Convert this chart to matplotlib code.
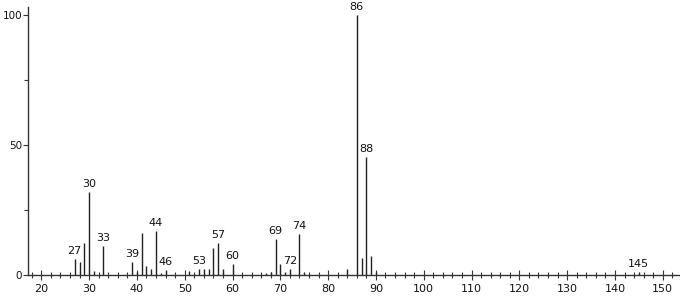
import matplotlib.pyplot as plt

# m/z and relative intensity (%)
mz = [27, 28, 29, 30, 31, 33, 39, 40, 41, 42, 43, 44, 45, 46,
      51, 52, 53, 54, 55, 56, 57, 58, 60, 67, 68, 69, 70, 71, 72,
      74, 75, 84, 86, 87, 88, 89, 90, 145]
intensity = [6.0, 5.0, 12.4, 31.8, 1.5, 11.0, 5.0, 1.2, 16.0, 3.5, 2.3, 17.0, 0.8, 1.8,
             1.5, 0.5, 2.4, 2.4, 2.4, 10.2, 12.4, 2.3, 4.1, 0.9, 1.3, 13.8, 4.2, 1.2, 2.2,
             15.6, 1.0, 2.3, 100.0, 6.4, 45.5, 7.2, 1.0, 1.0]

# peaks that carry a label
labeled = [27, 30, 33, 39, 44, 46, 53, 57, 60, 69, 72, 74, 86, 88, 145]

fig = plt.figure(figsize=(6.8, 2.97), dpi=100)
ax = fig.add_axes([0.041, 0.074, 0.959, 0.902])

ax.vlines(mz, 0, intensity, color="#222222", linewidth=1.0)

for m, h in zip(mz, intensity):
    if m in labeled:
        ax.text(m, h + 1.2, str(m), ha="center", va="bottom", fontsize=8,
                color="#111111")

ax.set_xlim(17.2, 153.6)
ax.set_ylim(0, 103)

ax.set_xticks(range(20, 151, 10))
ax.set_xticks(range(18, 153, 2), minor=True)
ax.set_yticks([0, 50, 100])
ax.set_yticks([25, 75], minor=True)

ax.spines["top"].set_visible(False)
ax.spines["right"].set_visible(False)
for s in ["left", "bottom"]:
    ax.spines[s].set_color("#333333")
    ax.spines[s].set_linewidth(1.0)

ax.tick_params(axis="x", which="major", direction="inout", length=7, width=0.8,
               labelsize=8, pad=3, colors="#333333")
ax.tick_params(axis="x", which="minor", direction="inout", length=4, width=0.8,
               colors="#333333")
ax.tick_params(axis="y", which="major", direction="out", length=3.5, width=0.8,
               labelsize=7.5, pad=0.5, colors="#333333")
ax.tick_params(axis="y", which="minor", direction="out", length=3, width=0.8,
               colors="#333333")
for lbl in ax.get_xticklabels() + ax.get_yticklabels():
    lbl.set_color("#111111")

fig.savefig("out.png", dpi=100)
